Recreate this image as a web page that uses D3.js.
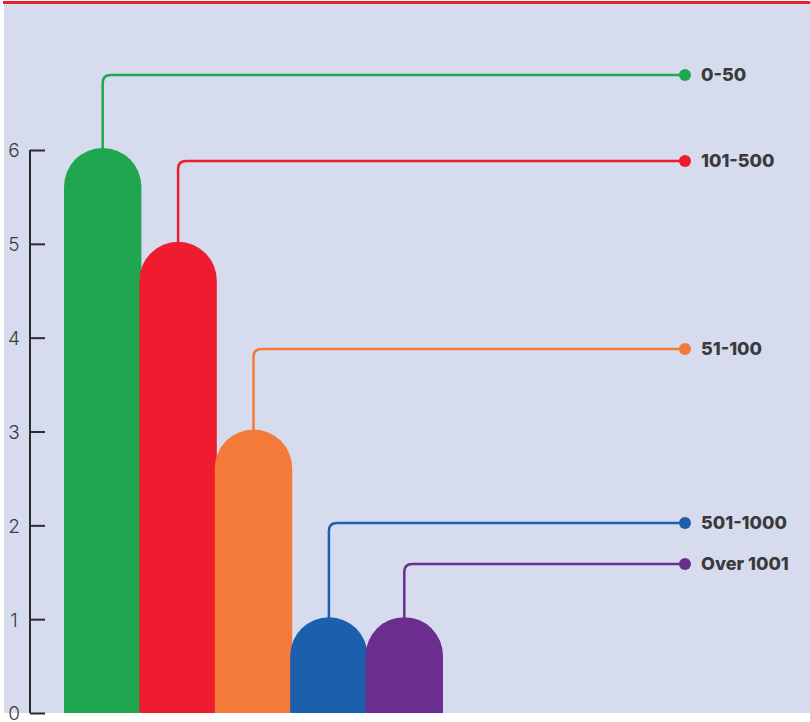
<!DOCTYPE html>
<html>
<head>
<meta charset="utf-8">
<script src="https://cdn.jsdelivr.net/npm/d3@7"></script>
<style>
  html, body { margin: 0; padding: 0; background: #ffffff; }
  svg { display: block; }
</style>
</head>
<body>
<div id="chart"></div>
<script>
// Categories, values and colours of the rounded bars
const categories = ["0-50", "101-500", "51-100", "501-1000", "Over 1001"];
const values = [6, 5, 3, 1, 1];
const colors = ["#1fa64f", "#ee1c2e", "#f47a3a", "#1b5fad", "#6b2d8e"];
const yTicks = [0, 1, 2, 3, 4, 5, 6];

// Callout rows on the right (pixel rows of each label)
const calloutY = [75, 161, 349, 523, 564];

const W = 810, H = 722;
const panel = { x: 4, y: 4, right: 810, bottom: 713 };

const svg = d3.select("#chart").append("svg")
  .attr("width", W).attr("height", H);

// Background panel and top rule
svg.append("rect")
  .attr("x", panel.x).attr("y", panel.y)
  .attr("width", panel.right - panel.x).attr("height", panel.bottom - panel.y)
  .attr("fill", "#d6dcee");
svg.append("rect")
  .attr("x", 3).attr("y", 1).attr("width", W - 3).attr("height", 3)
  .attr("fill", "#e8202e");

const y = d3.scaleLinear().domain([0, 6]).range([713, 150]);
const x = d3.scaleBand().domain(categories).range([65, 442]).padding(0);

// Y axis: ticks pointing right, labels on the left
const axisX = 30;
const axis = svg.append("g").attr("transform", `translate(${axisX},0)`)
  .call(d3.axisRight(y).tickValues(yTicks).tickSize(15).tickFormat(d3.format("d")));
axis.select(".domain").attr("stroke", "#2b2b2b").attr("stroke-width", 2)
  .attr("d", `M0,${y(6)}V${y(0)}`);
axis.selectAll(".tick line").attr("stroke", "#2b2b2b").attr("stroke-width", 2);
axis.selectAll(".tick text")
  .attr("x", -16).attr("dy", "0.36em")
  .attr("text-anchor", "middle")
  .attr("fill", "#3a3a3a")
  .style("font-family", "Inter, 'Open Sans', sans-serif")
  .style("font-weight", 300)
  .style("font-size", "19px");

const data = categories.map((c, i) => ({ c, v: values[i], color: colors[i], cy: calloutY[i] }));

// Bars with semicircular tops
const barW = x.bandwidth() + 2;
function barPath(d) {
  const cx = x(d.c) + x.bandwidth() / 2;
  const r = barW / 2;
  const top = y(d.v) - 2;
  const base = y(0);
  const x0 = cx - r, x1 = cx + r;
  return `M${x0},${base}V${top + r}A${r},${r} 0 0 1 ${x1},${top + r}V${base}Z`;
}

// Leader lines from each bar top to its label
const cornerR = 8, dotX = 685;
svg.append("g").selectAll("path").data(data).join("path")
  .attr("d", d => {
    const cx = x(d.c) + x.bandwidth() / 2;
    const top = y(d.v);
    return `M${cx},${top}V${d.cy + cornerR}Q${cx},${d.cy} ${cx + cornerR},${d.cy}H${dotX}`;
  })
  .attr("fill", "none")
  .attr("stroke", d => d.color)
  .attr("stroke-width", 2.5);

svg.append("g").selectAll("path").data(data).join("path")
  .attr("d", barPath)
  .attr("fill", d => d.color);

svg.append("g").selectAll("circle").data(data).join("circle")
  .attr("cx", dotX).attr("cy", d => d.cy).attr("r", 6)
  .attr("fill", d => d.color);

svg.append("g").selectAll("text").data(data).join("text")
  .attr("x", 701).attr("y", d => d.cy).attr("dy", "0.36em")
  .attr("fill", "#3a3a3a")
  .style("font-family", "Inter, 'Open Sans', sans-serif")
  .style("font-weight", 800)
  .style("font-size", "18px")
  .text(d => d.c);
</script>
</body>
</html>
